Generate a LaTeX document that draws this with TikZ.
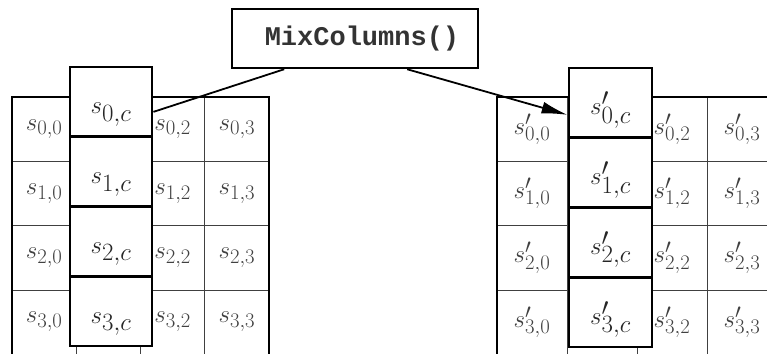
\documentclass[tikz,border=0pt]{standalone}
\usepackage{fontspec}
\setmonofont{Liberation Mono}
\DeclareMathSizes{25}{25}{20}{15}
\DeclareMathSizes{32}{32}{23}{17}
\usetikzlibrary{arrows.meta,calc}
\begin{document}
\begin{tikzpicture}[x=1pt,y=-1pt,
  cell/.style={draw=black!75, line width=0.7pt, minimum width=64.25pt, minimum height=64.3pt, inner sep=0pt, font=\fontsize{25}{30}\selectfont, text=black!75},
  rcell/.style={cell, minimum width=70pt},
  colbox/.style={draw, line width=2.8pt, fill=white, minimum width=82pt, minimum height=69.75pt, inner sep=0pt, text height=26pt, text depth=2pt, font=\fontsize{32}{38}\selectfont, text=black!85},
  gridframe/.style={line width=2pt},
  mcbox/.style={draw, line width=2.5pt, minimum width=246pt, minimum height=59pt, inner sep=0pt, font=\ttfamily\bfseries\fontsize{27}{32}\selectfont, text=black!80},
  conn/.style={line width=1.8pt}
]
\useasboundingbox (0,0) rectangle (767,353);
\clip (0,0) rectangle (767,353);
% left state grid
\foreach \r in {0,...,3}{
  \foreach \c in {0,...,3}{
    \node[cell] (L\r\c) at ({12+64.25*(\c+0.5)},{97+64.3*(\r+0.5)}) {\ifnum\c=1\relax\else$s_{\r,\c}$\fi};
  }
}
\draw[gridframe] (L00.north west) rectangle (L33.south east);
% right state grid
\foreach \r in {0,...,3}{
  \foreach \c in {0,...,3}{
    \node[rcell] (R\r\c) at ({497+70*(\c+0.5)},{97+64.3*(\r+0.5)}) {\ifnum\c=1\relax\else$s'_{\r,\c}$\fi};
  }
}
\draw[gridframe] (R00.north west) rectangle (R33.south east);
% highlighted columns
\foreach \r in {0,...,3}{
  \node[colbox] (LC\r) at (111,{67+69.75*(\r+0.5)}) {$s_{\r,c}$};
  \node[colbox, minimum width=83pt] (RC\r) at (610.5,{68+69.75*(\r+0.5)}) {$s'_{\r,c}$};
}
% MixColumns box
\node[mcbox] (mc) at (355,38.5) {\hspace{14pt}MixColumns()};
\draw[conn] ($(mc.south west)!0.215!(mc.south east)$) -- ([yshift=-10pt]LC0.east);
\draw[conn,-{Latex[length=26pt,width=12pt]}] ($(mc.south west)!0.71!(mc.south east)$) -- ([yshift=-12pt]RC0.west);
\end{tikzpicture}
\end{document}
